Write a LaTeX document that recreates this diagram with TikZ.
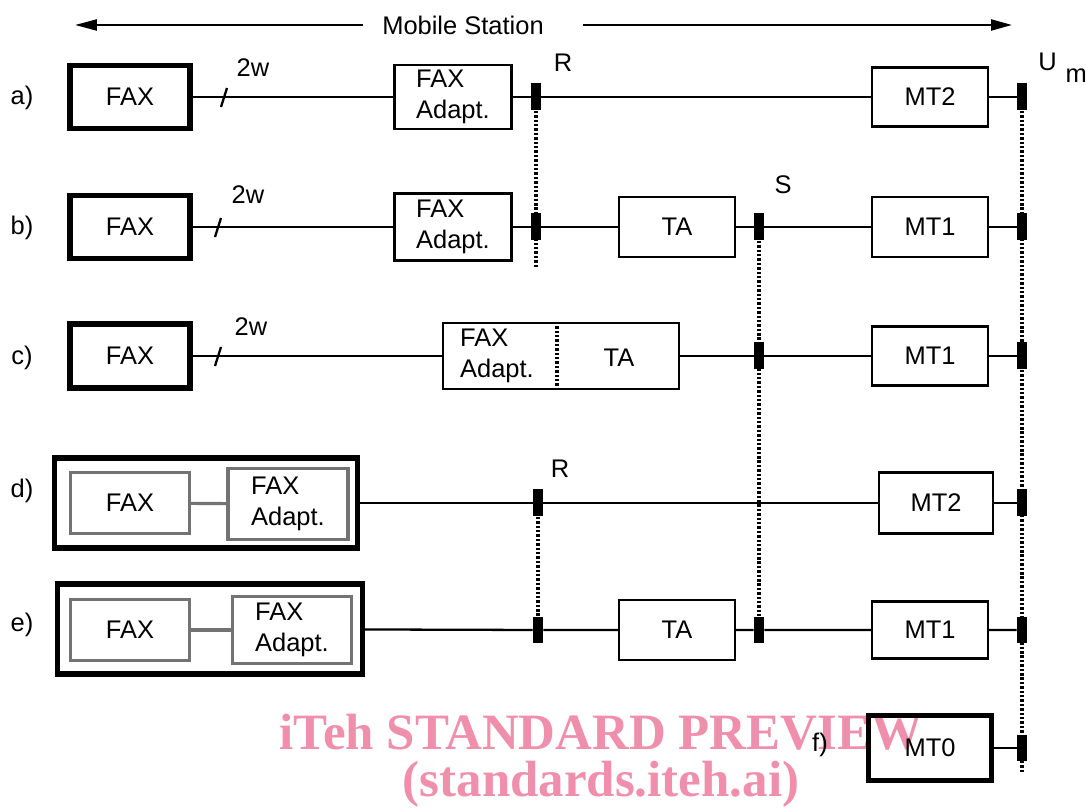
\documentclass[tikz,border=0pt]{standalone}
\usepackage{fontspec}
\setmainfont{Liberation Sans}
\newfontfamily\wmfont{Liberation Serif}
\usetikzlibrary{arrows.meta}
\definecolor{wmpink}{RGB}{239,143,171}

\begin{document}
\begin{tikzpicture}[
    x=0.02cm, y=-0.02cm,
    font=\fontsize{14.5}{17.5}\selectfont,
    unit box/.style={draw, line width=1.3pt, minimum width=2.32cm, minimum height=1.2cm, inner sep=0pt, align=left},
    fax box/.style={unit box, line width=3pt, minimum width=2.4cm, minimum height=1.26cm},
    inner box/.style={draw=black!55, line width=1.8pt, minimum width=2.38cm, minimum height=1.22cm, inner sep=0pt, align=left},
    ref mark/.style={fill=black, minimum width=0.2cm, minimum height=0.54cm, inner sep=0pt},
    wire/.style={line width=1.3pt},
    ref line/.style={line width=1.8pt, dash pattern=on 1.4pt off 1.1pt},
    watermark/.style={font=\wmfont\bfseries\fontsize{29}{30}\selectfont, text=wmpink}
]
\useasboundingbox (0,0) rectangle (1086,810);

% Watermark
\node[watermark] (wm1) at (601,732) {iTeh STANDARD PREVIEW};
\node[watermark] (wm2) at (601,784) {(standards.iteh.ai)};

% Mobile Station
\node (ms) at (463,25) {Mobile Station};
\coordinate (msl) at (75,25);
\coordinate (msr) at (1012,25);
\draw[wire, -{Triangle[length=0.44cm, width=0.22cm]}] (ms.west) ++(-0.27cm,0) -- (msl);
\draw[wire, -{Triangle[length=0.42cm, width=0.22cm]}] (ms.east) ++(0.67cm,0) -- (msr);

% Row a)
\node at (22,98) {a)};
\node[fax box] (fa) at (130,97) {FAX};
\node[unit box, minimum width=2.34cm, minimum height=1.28cm] (faa) at (453,97) {FAX\\Adapt.};
\node[ref mark] (ra) at (536,97) {};
\node[unit box, minimum height=1.18cm] (mt2a) at (930,97) {MT2};
\node[ref mark] (uma) at (1022,97) {};
\coordinate (wa) at (224,97);
\node at (253,68) {2w};
\node at (563,63) {R};
\node[anchor=base west, inner sep=0pt] (um) at (1038,71) {U\hspace{5pt}\raisebox{-6.8pt}{m}};

\draw[wire] (fa) -- (faa) -- (ra) -- (mt2a) -- (uma);
\draw[wire] ([shift={(-3,10)}]wa) -- ([shift={(3,-9)}]wa);

% Row b)
\node at (22,228) {b)};
\node[fax box] (fb) at (130,227) {FAX};
\node[unit box, minimum width=2.34cm, minimum height=1.34cm] (fab) at (453,227) {FAX\\Adapt.};
\node[ref mark] (rb) at (536,227) {};
\node[unit box] (tab) at (677,227) {TA};
\node[ref mark] (sb) at (759,227) {};
\node[unit box] (mt1b) at (930,227) {MT1};
\node[ref mark] (umb) at (1022,227) {};
\coordinate (wb) at (218,227);
\node at (248,195) {2w};
\node at (783,185) {S};

\draw[wire] (fb) -- (fab) -- (rb) -- (tab) -- (sb) -- (mt1b) -- (umb);
\draw[wire] ([shift={(-3,10)}]wb) -- ([shift={(3,-9)}]wb);

% Row c)
\node at (22,358) {c)};
\node[fax box, minimum height=1.28cm] (fc) at (130,356) {FAX};
\node[unit box, minimum width=4.72cm, minimum height=1.32cm] (fatc) at (561,356) {};
\node[align=left] at (497,356) {FAX\\Adapt.};
\node at (619,358) {TA};
\draw[ref line] ([xshift=-0.08cm]fatc.north) -- ([xshift=-0.08cm]fatc.south);
\node[ref mark] (sc) at (759,356) {};
\node[unit box, minimum height=1.18cm] (mt1c) at (930,356) {MT1};
\node[ref mark] (umc) at (1022,356) {};
\coordinate (wc) at (218,356);
\node at (251,327) {2w};

\draw[wire] (fc) -- (fatc) -- (sc) -- (mt1c) -- (umc);
\draw[wire] ([shift={(-3,10)}]wc) -- ([shift={(3,-9)}]wc);

% Row d)
\node at (22,491) {d)};
\node[fax box, minimum width=6.06cm, minimum height=1.8cm] (outd) at (206,503) {};
\node[inner box] (faxd) at (130,503) {FAX};
\node[inner box, minimum width=2.4cm, minimum height=1.42cm] (fadd) at (288,504) {FAX\\Adapt.};
\node[ref mark] (rd) at (538,503) {};
\node[unit box, minimum width=2.28cm, minimum height=1.22cm] (mt2d) at (936,503) {MT2};
\node[ref mark] (umd) at (1022,503) {};
\node at (560,469) {R};

\draw[black!55, line width=1.8pt] (faxd) -- (fadd);
\draw[wire] (outd) -- (rd) -- (mt2d) -- (umd);

% Row e)
\node at (22,625) {e)};
\node[fax box, minimum width=6.1cm, minimum height=1.8cm] (oute) at (210,629) {};
\node[inner box] (faxe) at (130,630) {FAX};
\node[inner box, minimum width=2.38cm, minimum height=1.34cm] (fade) at (292,630) {FAX\\Adapt.};
\node[ref mark] (re) at (538,630) {};
\node[unit box] (tae) at (677,630) {TA};
\node[ref mark] (se) at (759,630) {};
\node[unit box, minimum height=1.14cm] (mt1e) at (930,630) {MT1};
\node[ref mark] (ume) at (1022,630) {};

\draw[black!55, line width=1.8pt] (faxe) -- (fade);
\draw[wire] (oute) -- (re) -- (tae) -- (se) -- (mt1e) -- (ume);

% Row f)
\node at (820,745) {f)};
\node[fax box, minimum width=2.46cm, minimum height=1.3cm] (mt0) at (930,748) {MT0};
\node[ref mark] (umf) at (1022,748) {};

\draw[wire] (mt0) -- (umf);

% Reference lines R, S, Um
\coordinate (rend) at (536,268);
\coordinate (umend) at (1022,772);
\draw[ref line] (ra) -- (rend);
\draw[ref line] (rd) -- (re);
\draw[ref line] (sb) -- (se);
\draw[ref line] (uma) -- (umend);

\end{tikzpicture}
\end{document}
